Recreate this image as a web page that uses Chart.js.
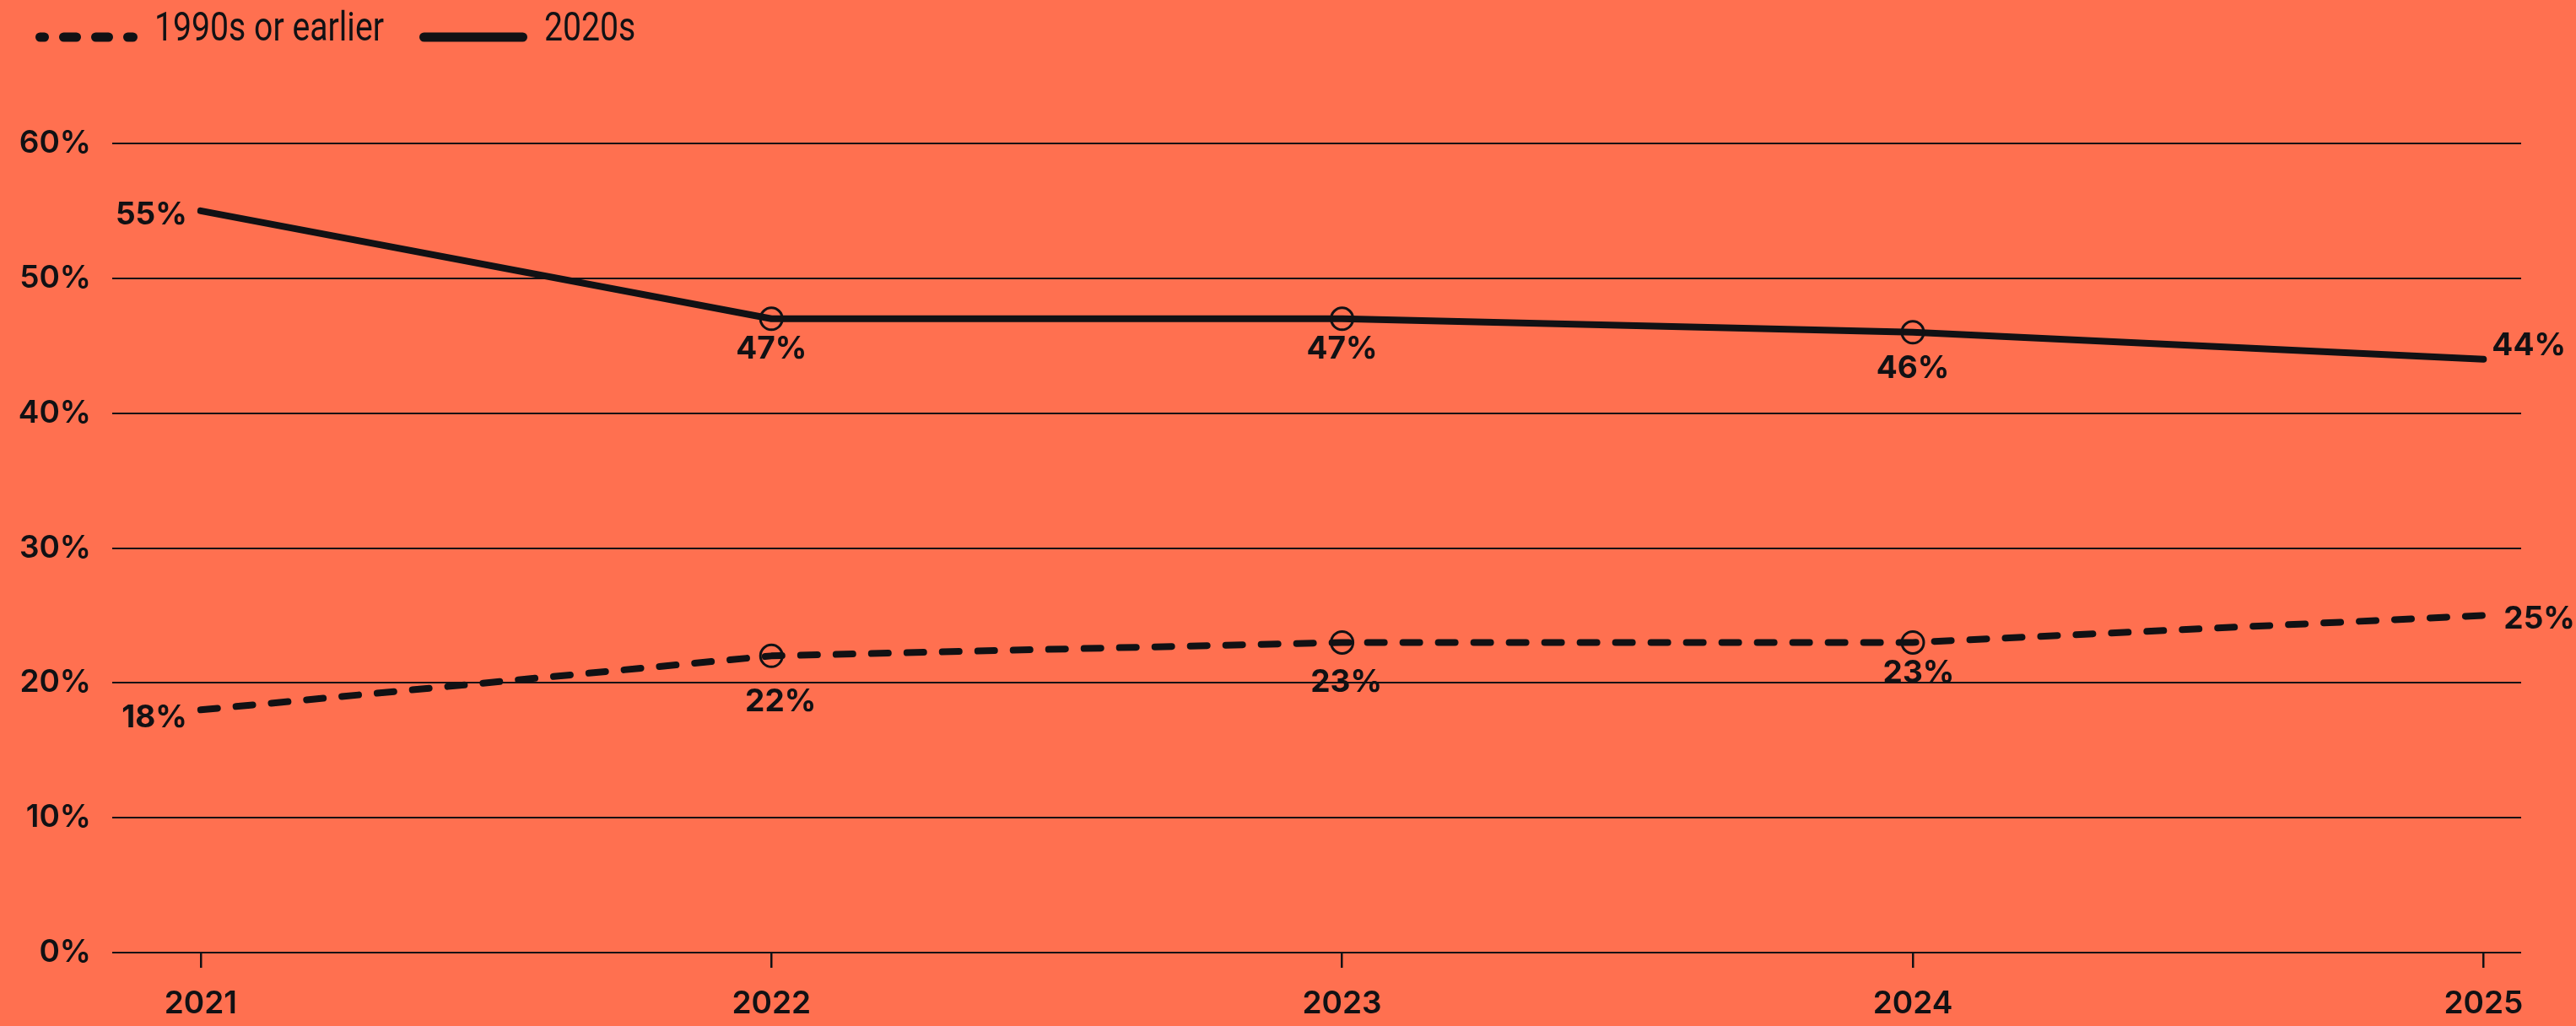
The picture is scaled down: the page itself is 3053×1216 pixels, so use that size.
<!DOCTYPE html>
<html lang="en-US">
<head>
  <meta charset="utf-8">
  <title>1990s or earlier vs 2020s</title>
  <script src="https://cdn.jsdelivr.net/npm/chart.js@4.4.1/dist/chart.umd.min.js"></script>
  <style>
    html, body { margin: 0; padding: 0; background: #FF7050; }
    .wrapper { width: 3053px; height: 1216px; position: relative; }
  </style>
</head>

<body>
  <div class="wrapper">
    <canvas id="chart-0"></canvas>
  </div>

  <script>
    const years = [2021, 2022, 2023, 2024, 2025];
    const older = [18, 22, 23, 23, 25];   // 1990s or earlier
    const recent = [55, 47, 47, 46, 44];  // 2020s

    const ink = '#111114';

    // where each value label sits relative to its point
    const labelPlacement = [
      [{dx: -16, dy: 10, align: 'right'}, {dx: 11, dy: 55}, {dx: 5, dy: 47}, {dx: 7, dy: 36}, {dx: 24, dy: 4, align: 'left'}],
      [{dx: -16, dy: 5, align: 'right'}, {dx: 0, dy: 36}, {dx: 0, dy: 36}, {dx: 0, dy: 43}, {dx: 10, dy: -16, align: 'left'}]
    ];

    const valueLabels = {
      id: 'valueLabels',
      afterDatasetsDraw(chart) {
        const ctx = chart.ctx;
        ctx.save();
        ctx.fillStyle = ink;
        ctx.font = '700 37px Inter, "Noto Sans", sans-serif';
        ctx.textBaseline = 'middle';
        chart.data.datasets.forEach((ds, di) => {
          chart.getDatasetMeta(di).data.forEach((pt, i) => {
            const p = labelPlacement[di][i];
            ctx.textAlign = p.align || 'center';
            ctx.fillText(ds.data[i].y + '%', pt.x + p.dx, pt.y + p.dy);
          });
        });
        ctx.restore();
      }
    };

    // top legend: line sample + condensed label
    const lineLegend = {
      id: 'lineLegend',
      afterDraw(chart) {
        const ctx = chart.ctx;
        const items = [
          {ds: 0, x0: 47.5, x1: 157.5, tx: 183},
          {ds: 1, x0: 502.5, x1: 619.5, tx: 645}
        ];
        ctx.save();
        ctx.strokeStyle = ink;
        ctx.fillStyle = ink;
        ctx.lineWidth = 11;
        ctx.lineCap = 'round';
        ctx.font = '49px Roboto, sans-serif';
        ctx.textBaseline = 'alphabetic';
        ctx.textAlign = 'left';
        items.forEach(it => {
          const ds = chart.data.datasets[it.ds];
          ctx.setLineDash(ds.borderDash ? [15, 23] : []);
          ctx.lineDashOffset = ds.borderDash ? 10 : 0;
          ctx.beginPath();
          ctx.moveTo(it.x0, 44);
          ctx.lineTo(it.x1, 44);
          ctx.stroke();
          ctx.save();
          ctx.translate(it.tx, 48);
          ctx.scale(0.8, 1);
          ctx.fillText(ds.label, 0, 0);
          ctx.restore();
        });
        ctx.restore();
      }
    };

    function toPoints(values) {
      return values.map((v, i) => ({x: years[i], y: v}));
    }

    const markerRadius = [0, 13, 13, 13, 0];

    let chart = new Chart('chart-0', {
      type: 'line',
      data: {
        datasets: [
          {
            label: '1990s or earlier',
            data: toPoints(older),
            borderColor: ink,
            borderWidth: 8,
            borderDash: [20, 22],
            borderCapStyle: 'round',
            pointRadius: markerRadius,
            pointBorderWidth: 3,
            pointBorderColor: ink,
            pointBackgroundColor: 'transparent'
          },
          {
            label: '2020s',
            data: toPoints(recent),
            borderColor: ink,
            borderWidth: 8,
            borderCapStyle: 'round',
            pointRadius: markerRadius,
            pointBorderWidth: 3,
            pointBorderColor: ink,
            pointBackgroundColor: 'transparent'
          }
        ]
      },
      options: {
        responsive: true,
        maintainAspectRatio: false,
        devicePixelRatio: 1,
        animation: false,
        events: [],
        layout: {
          padding: {top: 170, left: 0, right: 65, bottom: 0}
        },
        elements: {
          line: {tension: 0, borderJoinStyle: 'round'}
        },
        plugins: {
          tooltip: {enabled: false},
          legend: {display: false}
        },
        scales: {
          x: {
            type: 'linear',
            min: 2020.845,
            max: 2025.066,
            afterBuildTicks(scale) {
              scale.ticks = years.map(v => ({value: v}));
            },
            afterFit(scale) {
              scale.height = 87;
            },
            border: {display: false},
            grid: {
              drawOnChartArea: false,
              drawTicks: true,
              tickLength: 18,
              color: ink,
              lineWidth: 2.5
            },
            ticks: {
              padding: 21,
              color: ink,
              maxRotation: 0,
              font: {family: 'Inter, "Noto Sans", sans-serif', size: 37, weight: 600},
              callback: v => String(v)
            }
          },
          y: {
            min: 0,
            max: 60,
            afterFit(scale) {
              scale.width = 133;
            },
            border: {display: false},
            grid: {
              drawTicks: false,
              color: ink,
              lineWidth: 2
            },
            ticks: {
              stepSize: 10,
              padding: 25,
              color: ink,
              font: {family: 'Inter, "Noto Sans", sans-serif', size: 37, weight: 600},
              callback: v => v + '%'
            }
          }
        }
      },
      plugins: [valueLabels, lineLegend]
    });
  </script>
</body>
</html>
